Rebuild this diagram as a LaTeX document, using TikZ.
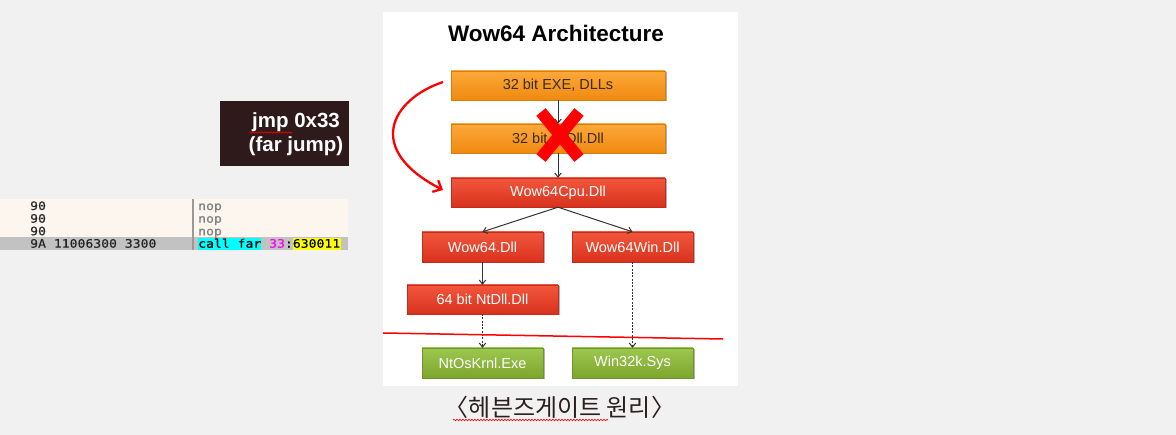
\documentclass[tikz,border=0pt]{standalone}
\usepackage{fontspec}
\setmainfont{Liberation Sans}
\newfontfamily\codefont[FakeStretch=1.12,FakeBold=0.6]{DejaVu Sans Mono}
\newfontfamily\krfont{Noto Sans CJK KR}
\usetikzlibrary{arrows.meta,decorations.pathmorphing,shadows}
\definecolor{pagebg}{HTML}{F1F1F1}
\definecolor{cream}{HTML}{FDF6EE}
\definecolor{rowgray}{HTML}{C2C2C2}
\definecolor{hlcyan}{HTML}{00FFFF}
\definecolor{hlyellow}{HTML}{FFFF00}
\definecolor{hlmagenta}{HTML}{FF00FF}
\definecolor{orangeT}{HTML}{FCA83A}
\definecolor{orangeB}{HTML}{F08A10}
\definecolor{redT}{HTML}{F2563C}
\definecolor{redB}{HTML}{D8321E}
\definecolor{greenT}{HTML}{9CC850}
\definecolor{greenB}{HTML}{7EA52C}
\definecolor{darkbox}{HTML}{2E1A1A}
\definecolor{kcol}{HTML}{2A1E1E}
\definecolor{otext}{HTML}{3A2A1A}
\definecolor{conn}{HTML}{333333}
\definecolor{pure red}{HTML}{FF0000}
\tikzset{
  archbox/.style={rectangle, inner sep=0pt, minimum height=29pt,
    font=\fontsize{14.5}{16}\selectfont,
    drop shadow={shadow xshift=1.5pt, shadow yshift=-1.5pt, opacity=.3, fill=black}},
  orangebox/.style={archbox, top color=orangeT, bottom color=orangeB, draw=orangeB!90!black, text=otext},
  redbox/.style={archbox, top color=redT, bottom color=redB, draw=redB!90!black, text=white},
  greenbox/.style={archbox, top color=greenT, bottom color=greenB, draw=greenB!90!black, text=white},
  conarrow/.style={draw=conn, line width=1pt, -{Straight Barb[length=4pt,width=6.5pt]}},
  dotarrow/.style={conarrow, dash pattern=on 2pt off 1.3pt},
  codetext/.style={anchor=base west, inner sep=0pt, font=\codefont\fontsize{11.7}{12}\selectfont},
  squiggle/.style={draw=pure red, line width=0.6pt, decorate, decoration={snake, amplitude=0.8pt, segment length=3pt}}
}
\begin{document}
\begin{tikzpicture}[x=1pt,y=-1pt]
\useasboundingbox (0,0) rectangle (1176,435);
\fill[pagebg] (0,0) rectangle (1176,435);
% white panel
\fill[white] (383,12) rectangle (738,386);
% title
\node[font=\bfseries\fontsize{22.5}{26}\selectfont] (title) at (556,33) {Wow64 Architecture};
% boxes
\node[orangebox, minimum width=214pt] (exe) at (558,85.5) {32 bit EXE, DLLs};
\node[orangebox, minimum width=214pt] (nt32) at (558,138.5) {32 bit NtDll.Dll};
\node[redbox, minimum width=214pt] (cpu) at (558,192.5) {Wow64Cpu.Dll};
\node[redbox, minimum width=121pt, minimum height=30pt] (w64) at (482.5,247) {Wow64.Dll};
\node[redbox, minimum width=121pt, minimum height=30pt] (w64win) at (632.5,247) {Wow64Win.Dll};
\node[redbox, minimum width=151pt] (nt64) at (482.5,299.5) {64 bit NtDll.Dll};
\node[greenbox, minimum width=121pt, minimum height=30pt] (ntos) at (482.5,363) {NtOsKrnl.Exe};
\node[greenbox, minimum width=121pt, minimum height=30pt] (win32k) at (632.5,363) {Win32k.Sys};
% connectors
\draw[conarrow] (exe.south) -- (nt32.north);
\draw[conarrow] (nt32.south) -- (cpu.north);
\draw[conarrow] (cpu.south) -- (w64.north);
\draw[conarrow] (cpu.south) -- (w64win.north);
\draw[conarrow] (w64.south) -- (nt64.north);
\draw[dotarrow] (nt64.south) -- (ntos.north);
\draw[dotarrow] (w64win.south) -- (win32k.north);
% separator line
\coordinate (sepA) at (383,333);
\coordinate (sepB) at (723,339);
\draw[pure red, line width=1.5pt] (sepA) -- (sepB);
% red X
\coordinate (xa) at (541,112);
\coordinate (xb) at (579,158);
\coordinate (xc) at (579,112);
\coordinate (xd) at (541,158);
\draw[pure red, line width=12pt] (xa) -- (xb);
\draw[pure red, line width=12pt] (xc) -- (xd);
% red curved arrow
\coordinate (cs) at (443,82);
\coordinate (ce) at (443,190);
\draw[pure red, line width=2.3pt, -{Straight Barb[length=7pt,width=13pt]}] (cs) .. controls (390,100) and (365,150) .. (ce);
% jmp box
\fill[darkbox] (220,101) rectangle (349,166);
\node[text=white, font=\bfseries\fontsize{20.5}{24}\selectfont, align=center, inner sep=0pt] (jmp) at (296,134) {jmp 0x33\\(far jump)};
\coordinate (sqA) at (249,132.5);
\coordinate (sqB) at (292,132.5);
\draw[squiggle] (sqA) -- (sqB);
% code panel
\fill[cream] (0,199) rectangle (348,250.5);
\fill[rowgray] (0,237.5) rectangle (348,250.5);
\draw[gray!80, line width=1.2pt] (193,199) -- (193,250.5);
\fill[hlcyan] (198,238) rectangle (261,250);
\fill[hlyellow] (293,238) rectangle (341,250);
\node[codetext, text=black!85] (b1) at (30,210) {90};
\node[codetext, text=black!85] (b2) at (30,222.7) {90};
\node[codetext, text=black!85] (b3) at (30,235.3) {90};
\node[codetext, text=black!85] (b4) at (30,247.7) {9A 11006300 3300};
\node[codetext, text=gray] (n1) at (198,210) {nop};
\node[codetext, text=gray] (n2) at (198,222.7) {nop};
\node[codetext, text=gray] (n3) at (198,235.3) {nop};
\node[codetext, text=black] (c4) at (198,247.7) {call far \textcolor{hlmagenta}{33}:630011};
% caption
\node[font=\krfont\fontsize{24}{27}\selectfont, text=kcol] (cap) at (560,407) {〈헤븐즈게이트 원리〉};
\coordinate (kA) at (453,420);
\coordinate (kB) at (608,420);
\draw[squiggle] (kA) -- (kB);
\end{tikzpicture}
\end{document}
